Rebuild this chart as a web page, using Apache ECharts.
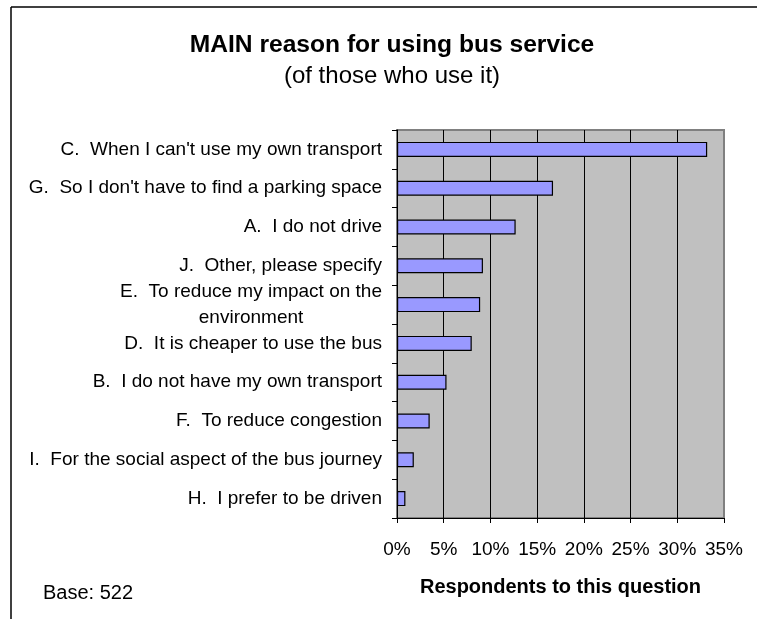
<!DOCTYPE html>
<html>
<head>
<meta charset="utf-8">
<script src="https://cdn.jsdelivr.net/npm/echarts@6/dist/echarts.min.js"></script>
<style>
  html, body { margin: 0; padding: 0; background: #fff; }
  #main { width: 757px; height: 619px; }
</style>
</head>
<body>
<div id="main"></div>
<script>
// reasons, top to bottom
const reasons = [
  "C.  When I can't use my own transport",
  "G.  So I don't have to find a parking space",
  'A.  I do not drive',
  'J.  Other, please specify',
  'E.  To reduce my impact on the\nenvironment',
  'D.  It is cheaper to use the bus',
  'B.  I do not have my own transport',
  'F.  To reduce congestion',
  'I.  For the social aspect of the bus journey',
  'H.  I prefer to be driven'
]
// share of respondents (%)
const shares = [33.2, 16.7, 12.7, 9.2, 8.9, 8.0, 5.3, 3.5, 1.8, 0.9]
const xTicks = [0, 5, 10, 15, 20, 25, 30, 35]

const font = 'Liberation Sans, Arial, sans-serif'
const chartDom = document.getElementById('main')
const myChart = echarts.init(chartDom)

var option = {
  animation: false,
  title: [
    {
      text: 'MAIN reason for using bus service',
      left: 387,
      top: 28,
      textAlign: 'center',
      textStyle: { fontFamily: font, fontSize: 24.6, fontWeight: 'bold', color: '#000' },
    },
    {
      text: '(of those who use it)',
      left: 387,
      top: 59,
      textAlign: 'center',
      textStyle: { fontFamily: font, fontSize: 24, fontWeight: 'normal', color: '#000' },
    },
    {
      text: 'Base: 522',
      left: 38,
      top: 578,
      textStyle: { fontFamily: font, fontSize: 20, fontWeight: 'normal', color: '#000' },
    },
  ],
  grid: {
    left: 397,
    right: 33,
    top: 130,
    bottom: 101,
    show: true,
    backgroundColor: '#C0C0C0',
    borderColor: '#808080',
    borderWidth: 2,
  },
  xAxis: {
    type: 'value',
    min: 0,
    max: 35,
    interval: 5,
    name: 'Respondents to this question',
    nameLocation: 'middle',
    nameGap: 59,
    nameTextStyle: { fontFamily: font, fontSize: 20, fontWeight: 'bold', color: '#000' },
    axisLine: { show: true, lineStyle: { color: '#000', width: 1 } },
    axisTick: { show: true, length: 5, lineStyle: { color: '#000' } },
    axisLabel: {
      margin: 22,
      fontFamily: font,
      fontSize: 19,
      color: '#000',
      formatter: (v) => (xTicks.indexOf(v) >= 0 ? v + '%' : ''),
    },
    // last line sits on the plot border, which is grey
    splitLine: {
      show: true,
      lineStyle: { color: ['#000', '#000', '#000', '#000', '#000', '#000', '#000', '#808080'], width: 1 },
    },
  },
  yAxis: {
    type: 'category',
    inverse: true,
    data: reasons,
    axisLine: { show: true, lineStyle: { color: '#000', width: 1 } },
    axisTick: { show: true, length: 5, lineStyle: { color: '#000' } },
    axisLabel: {
      margin: 15,
      fontFamily: font,
      fontSize: 19,
      color: '#000',
      lineHeight: 26,
      formatter: (v) => (v.indexOf('\n') >= 0 ? v.split('\n').map((s) => '{c|' + s + '}').join('\n') : v),
      rich: { c: { align: 'center', fontFamily: font, fontSize: 19, lineHeight: 26, color: '#000' } },
    },
    splitLine: { show: false },
  },
  series: [
    {
      type: 'bar',
      data: shares,
      barWidth: 15,
      itemStyle: { color: '#9999FF', borderColor: '#000', borderWidth: 1.2 },
    },
  ],
  graphic: [
    { type: 'line', shape: { x1: 11, y1: 7, x2: 11, y2: 619 }, style: { stroke: '#000', lineWidth: 1.5 } },
    { type: 'line', shape: { x1: 11, y1: 7, x2: 757, y2: 7 }, style: { stroke: '#000', lineWidth: 1.5 } },
  ],
}
option && myChart.setOption(option)
</script>
</body>
</html>
